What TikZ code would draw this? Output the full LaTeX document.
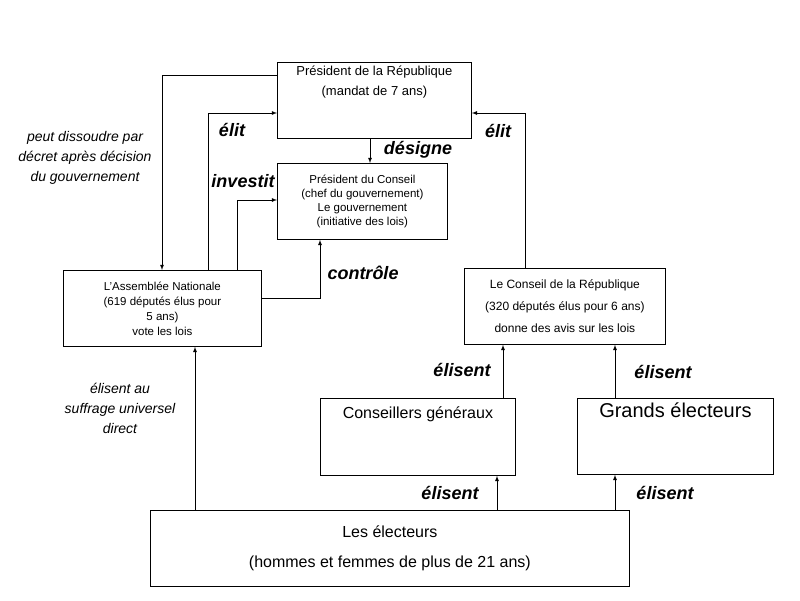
\documentclass[tikz,border=0pt]{standalone}
\usepackage{fontspec}
\setmainfont{Liberation Sans}
\begin{document}
\begin{tikzpicture}[x=1pt,y=-1pt,
  box/.style={draw,thick,inner sep=0pt,align=center},
  arr/.style={thick,-latex},
  lab/.style={font=\fontsize{18}{18}\selectfont\bfseries\itshape},
  side/.style={font=\fontsize{14}{20}\selectfont\itshape,align=center}]
\useasboundingbox (0,0) rectangle (800,600);
\node[box,minimum width=194,minimum height=76,anchor=north west,font=\fontsize{13}{20}\selectfont] (pr) at (277,62) {Président de la République\\(mandat de 7 ans)\\[20pt]};
\node[box,minimum width=170,minimum height=76,anchor=north west,font=\fontsize{11.5}{14}\selectfont] (pc) at (277,163) {Président du Conseil\\(chef du gouvernement)\\Le gouvernement\\(initiative des lois)};
\node[box,minimum width=198,minimum height=76,anchor=north west,font=\fontsize{11.5}{15}\selectfont] (an) at (63,270) {L'Assemblée Nationale\\(619 députés élus pour\\5 ans)\\vote les lois};
\node[box,minimum width=201,minimum height=76,anchor=north west,font=\fontsize{12}{22}\selectfont] (cr) at (464,268) {Le Conseil de la République\\(320 députés élus pour 6 ans)\\donne des avis sur les lois};
\node[box,minimum width=195,minimum height=77,anchor=north west,font=\fontsize{16}{18}\selectfont] (cg) at (320,398) {Conseillers généraux\\[30pt]};
\node[box,minimum width=196,minimum height=76,anchor=north west,font=\fontsize{20}{22}\selectfont] (ge) at (577,398) {Grands électeurs\\[30pt]};
\node[box,minimum width=479,minimum height=76,anchor=north west,font=\fontsize{16}{30}\selectfont] (el) at (150,510) {Les électeurs\\(hommes et femmes de plus de 21 ans)};
% connectors
\draw[arr] (pr.west|-0,75) -| (an.north-|162,0);
\draw[arr] (an.north-|208,0) |- (pr.west|-0,113);
\draw[arr] (an.north-|237,0) |- (pc.west|-0,200);
\draw[arr] (an.east|-0,298) -| (pc.south-|320,0);
\draw[arr] (pr.south-|370,0) -- (pc.north-|370,0);
\draw[arr] (cr.north-|525,0) |- (pr.east|-0,113);
\draw[arr] (el.north-|195,0) -- (an.south-|195,0);
\draw[arr] (el.north-|497,0) -- (cg.south-|497,0);
\draw[arr] (cg.north-|503,0) -- (cr.south-|503,0);
\draw[arr] (el.north-|615,0) -- (ge.south-|615,0);
\draw[arr] (ge.north-|615,0) -- (cr.south-|615,0);
% labels
\node[lab] at (232,130) {élit};
\node[lab] at (243,181) {investit};
\node[lab] at (418,150) {désigne};
\node[lab] at (498,131) {élit};
\node[lab] at (363,273) {contrôle};
\node[lab] at (462,370) {élisent};
\node[lab] at (663,372) {élisent};
\node[lab] at (450,493) {élisent};
\node[lab] at (665,493) {élisent};
\node[side] at (85,158) {peut dissoudre par\\décret après décision\\du gouvernement};
\node[side] at (120,408) {élisent au\\suffrage universel\\direct};
\end{tikzpicture}
\end{document}
